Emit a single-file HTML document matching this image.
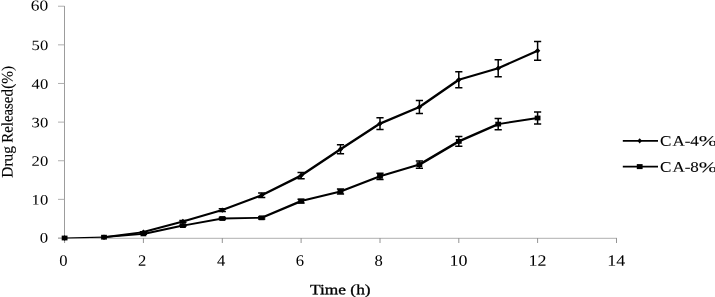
<!DOCTYPE html><html><head><meta charset="utf-8"><title>Drug release chart</title>
<style>html,body{margin:0;padding:0;background:#fff;}svg{display:block;}text{font-family:"Liberation Serif",serif;fill:#000;}</style></head><body>
<svg width="715" height="297" viewBox="0 0 715 297">
<rect width="715" height="297" fill="#fff"/>
<g fill="none">
<path d="M64.5 6 V238.5" stroke="#9c9c9c" stroke-width="1"/>
<path d="M58 238.3 H617" stroke="#a6a6a6" stroke-width="0.9"/>
<path d="M58 238.00 H64.5" stroke="#a6a6a6" stroke-width="0.9"/>
<path d="M58 199.37 H64.5" stroke="#a6a6a6" stroke-width="0.9"/>
<path d="M58 160.74 H64.5" stroke="#a6a6a6" stroke-width="0.9"/>
<path d="M58 122.11 H64.5" stroke="#a6a6a6" stroke-width="0.9"/>
<path d="M58 83.48 H64.5" stroke="#a6a6a6" stroke-width="0.9"/>
<path d="M58 44.85 H64.5" stroke="#a6a6a6" stroke-width="0.9"/>
<path d="M58 6.22 H64.5" stroke="#a6a6a6" stroke-width="0.9"/>
<path d="M64.6 238 V243" stroke="#949494" stroke-width="1"/>
<path d="M143.4 238 V243" stroke="#949494" stroke-width="1"/>
<path d="M222.3 238 V243" stroke="#949494" stroke-width="1"/>
<path d="M301.1 238 V243" stroke="#949494" stroke-width="1"/>
<path d="M380.0 238 V243" stroke="#949494" stroke-width="1"/>
<path d="M458.8 238 V243" stroke="#949494" stroke-width="1"/>
<path d="M537.6 238 V243" stroke="#949494" stroke-width="1"/>
<path d="M616.5 238 V243" stroke="#949494" stroke-width="1"/>
</g>
<text transform="translate(39.80 242.60) rotate(0.04)" font-size="14.3" textLength="8.4" lengthAdjust="spacingAndGlyphs">0</text>
<text transform="translate(31.60 204.50) rotate(0.04)" font-size="14.3" textLength="16.6" lengthAdjust="spacingAndGlyphs">10</text>
<text transform="translate(31.60 165.80) rotate(0.04)" font-size="14.3" textLength="16.6" lengthAdjust="spacingAndGlyphs">20</text>
<text transform="translate(31.60 127.15) rotate(0.04)" font-size="14.3" textLength="16.6" lengthAdjust="spacingAndGlyphs">30</text>
<text transform="translate(31.60 88.70) rotate(0.04)" font-size="14.3" textLength="16.6" lengthAdjust="spacingAndGlyphs">40</text>
<text transform="translate(31.60 50.00) rotate(0.04)" font-size="14.3" textLength="16.6" lengthAdjust="spacingAndGlyphs">50</text>
<text transform="translate(30.80 10.60) rotate(0.04)" font-size="15.2" textLength="17.4" lengthAdjust="spacingAndGlyphs">60</text>
<text transform="translate(59.25 265.85) rotate(0.04)" font-size="15.8" textLength="8.3" lengthAdjust="spacingAndGlyphs">0</text>
<text transform="translate(138.09 265.85) rotate(0.04)" font-size="15.8" textLength="8.3" lengthAdjust="spacingAndGlyphs">2</text>
<text transform="translate(216.93 265.85) rotate(0.04)" font-size="15.8" textLength="8.3" lengthAdjust="spacingAndGlyphs">4</text>
<text transform="translate(295.77 265.85) rotate(0.04)" font-size="15.8" textLength="8.3" lengthAdjust="spacingAndGlyphs">6</text>
<text transform="translate(374.61 265.85) rotate(0.04)" font-size="15.8" textLength="8.3" lengthAdjust="spacingAndGlyphs">8</text>
<text transform="translate(449.60 265.85) rotate(0.04)" font-size="15.8" textLength="18.0" lengthAdjust="spacingAndGlyphs">10</text>
<text transform="translate(528.44 265.85) rotate(0.04)" font-size="15.8" textLength="18.0" lengthAdjust="spacingAndGlyphs">12</text>
<text transform="translate(607.28 265.85) rotate(0.04)" font-size="15.8" textLength="18.0" lengthAdjust="spacingAndGlyphs">14</text>
<text transform="translate(310.00 294.30) rotate(0.04)" font-size="14.2" textLength="60.6" lengthAdjust="spacingAndGlyphs" stroke="#000" stroke-width="0.3">Time (h)</text>
<text transform="translate(12.5 177.7) rotate(-90.04) scale(1 1.05)" font-size="15.2" stroke="#000" stroke-width="0.15"><tspan x="0" textLength="31.7" lengthAdjust="spacingAndGlyphs">Drug</tspan> <tspan x="35" textLength="53.6" lengthAdjust="spacingAndGlyphs">Released</tspan><tspan x="88.9" textLength="22.9" lengthAdjust="spacingAndGlyphs">(%)</tspan></text>
<path d="M104.0 237.2 L143.4 232.1" fill="none" stroke="#000" stroke-width="1.91" stroke-linecap="round"/>
<path d="M143.4 232.1 L182.9 221.5" fill="none" stroke="#000" stroke-width="2.07" stroke-linecap="round"/>
<path d="M182.9 221.5 L222.3 210.1" fill="none" stroke="#000" stroke-width="2.10" stroke-linecap="round"/>
<path d="M222.3 210.1 L261.7 195.2" fill="none" stroke="#000" stroke-width="2.19" stroke-linecap="round"/>
<path d="M261.7 195.2 L301.1 175.6" fill="none" stroke="#000" stroke-width="2.31" stroke-linecap="round"/>
<path d="M301.1 175.6 L340.5 149.3" fill="none" stroke="#000" stroke-width="2.44" stroke-linecap="round"/>
<path d="M340.5 149.3 L380.0 123.6" fill="none" stroke="#000" stroke-width="2.43" stroke-linecap="round"/>
<path d="M380.0 123.6 L419.4 107.0" fill="none" stroke="#000" stroke-width="2.24" stroke-linecap="round"/>
<path d="M419.4 107.0 L458.8 79.8" fill="none" stroke="#000" stroke-width="2.46" stroke-linecap="round"/>
<path d="M458.8 79.8 L498.2 68.2" fill="none" stroke="#000" stroke-width="2.10" stroke-linecap="round"/>
<path d="M498.2 68.2 L537.6 50.8" fill="none" stroke="#000" stroke-width="2.25" stroke-linecap="round"/>
<path d="M61.9 238.0 L64.6 235.3 L67.3 238.0 L64.6 240.7 Z" fill="#000"/>
<path d="M101.3 237.2 L104.0 234.5 L106.7 237.2 L104.0 239.9 Z" fill="#000"/>
<path d="M143.4 231.8 V232.4" stroke="#000" stroke-width="1.5" fill="none"/>
<path d="M139.8 231.8 H147.0 M139.8 232.4 H147.0" stroke="#000" stroke-width="1.5" fill="none"/>
<path d="M140.7 232.1 L143.4 229.4 L146.1 232.1 L143.4 234.8 Z" fill="#000"/>
<path d="M182.9 220.6 V222.4" stroke="#000" stroke-width="1.5" fill="none"/>
<path d="M179.3 220.6 H186.5 M179.3 222.4 H186.5" stroke="#000" stroke-width="1.5" fill="none"/>
<path d="M180.2 221.5 L182.9 218.8 L185.6 221.5 L182.9 224.2 Z" fill="#000"/>
<path d="M222.3 208.7 V211.5" stroke="#000" stroke-width="1.5" fill="none"/>
<path d="M218.7 208.7 H225.9 M218.7 211.5 H225.9" stroke="#000" stroke-width="1.5" fill="none"/>
<path d="M219.6 210.1 L222.3 207.4 L225.0 210.1 L222.3 212.8 Z" fill="#000"/>
<path d="M261.7 193.0 V197.4" stroke="#000" stroke-width="1.5" fill="none"/>
<path d="M258.1 193.0 H265.3 M258.1 197.4 H265.3" stroke="#000" stroke-width="1.5" fill="none"/>
<path d="M259.0 195.2 L261.7 192.5 L264.4 195.2 L261.7 197.9 Z" fill="#000"/>
<path d="M301.1 172.4 V178.8" stroke="#000" stroke-width="1.5" fill="none"/>
<path d="M297.5 172.4 H304.7 M297.5 178.8 H304.7" stroke="#000" stroke-width="1.5" fill="none"/>
<path d="M298.4 175.6 L301.1 172.9 L303.8 175.6 L301.1 178.3 Z" fill="#000"/>
<path d="M340.5 144.8 V153.8" stroke="#000" stroke-width="1.5" fill="none"/>
<path d="M336.9 144.8 H344.1 M336.9 153.8 H344.1" stroke="#000" stroke-width="1.5" fill="none"/>
<path d="M337.8 149.3 L340.5 146.6 L343.2 149.3 L340.5 152.0 Z" fill="#000"/>
<path d="M380.0 117.8 V129.4" stroke="#000" stroke-width="1.5" fill="none"/>
<path d="M376.4 117.8 H383.6 M376.4 129.4 H383.6" stroke="#000" stroke-width="1.5" fill="none"/>
<path d="M377.3 123.6 L380.0 120.9 L382.7 123.6 L380.0 126.3 Z" fill="#000"/>
<path d="M419.4 100.4 V113.6" stroke="#000" stroke-width="1.5" fill="none"/>
<path d="M415.8 100.4 H423.0 M415.8 113.6 H423.0" stroke="#000" stroke-width="1.5" fill="none"/>
<path d="M416.7 107.0 L419.4 104.3 L422.1 107.0 L419.4 109.7 Z" fill="#000"/>
<path d="M458.8 71.8 V87.8" stroke="#000" stroke-width="1.5" fill="none"/>
<path d="M455.2 71.8 H462.4 M455.2 87.8 H462.4" stroke="#000" stroke-width="1.5" fill="none"/>
<path d="M456.1 79.8 L458.8 77.1 L461.5 79.8 L458.8 82.5 Z" fill="#000"/>
<path d="M498.2 59.7 V76.7" stroke="#000" stroke-width="1.5" fill="none"/>
<path d="M494.6 59.7 H501.8 M494.6 76.7 H501.8" stroke="#000" stroke-width="1.5" fill="none"/>
<path d="M495.5 68.2 L498.2 65.5 L500.9 68.2 L498.2 70.9 Z" fill="#000"/>
<path d="M537.6 41.4 V60.2" stroke="#000" stroke-width="1.5" fill="none"/>
<path d="M534.0 41.4 H541.2 M534.0 60.2 H541.2" stroke="#000" stroke-width="1.5" fill="none"/>
<path d="M534.9 50.8 L537.6 48.1 L540.3 50.8 L537.6 53.5 Z" fill="#000"/>
<path d="M64.6 238.0 L104.0 237.2" fill="none" stroke="#000" stroke-width="1.25" stroke-linecap="round"/>
<path d="M104.0 237.2 L143.4 233.9" fill="none" stroke="#000" stroke-width="1.85" stroke-linecap="round"/>
<path d="M143.4 233.9 L182.9 225.6" fill="none" stroke="#000" stroke-width="2.01" stroke-linecap="round"/>
<path d="M182.9 225.6 L222.3 218.5" fill="none" stroke="#000" stroke-width="1.97" stroke-linecap="round"/>
<path d="M222.3 218.5 L261.7 217.8" fill="none" stroke="#000" stroke-width="1.77" stroke-linecap="round"/>
<path d="M261.7 217.8 L301.1 201.1" fill="none" stroke="#000" stroke-width="2.24" stroke-linecap="round"/>
<path d="M301.1 201.1 L340.5 191.5" fill="none" stroke="#000" stroke-width="2.05" stroke-linecap="round"/>
<path d="M340.5 191.5 L380.0 176.3" fill="none" stroke="#000" stroke-width="2.20" stroke-linecap="round"/>
<path d="M380.0 176.3 L419.4 164.6" fill="none" stroke="#000" stroke-width="2.11" stroke-linecap="round"/>
<path d="M419.4 164.6 L458.8 141.4" fill="none" stroke="#000" stroke-width="2.38" stroke-linecap="round"/>
<path d="M458.8 141.4 L498.2 124.1" fill="none" stroke="#000" stroke-width="2.25" stroke-linecap="round"/>
<path d="M498.2 124.1 L537.6 118.0" fill="none" stroke="#000" stroke-width="1.94" stroke-linecap="round"/>
<rect x="61.7" y="235.6" width="5.8" height="4.8" fill="#000"/>
<rect x="101.1" y="234.8" width="5.8" height="4.8" fill="#000"/>
<path d="M143.4 233.6 V234.2" stroke="#000" stroke-width="1.5" fill="none"/>
<path d="M139.8 233.6 H147.0 M139.8 234.2 H147.0" stroke="#000" stroke-width="1.5" fill="none"/>
<rect x="140.5" y="231.5" width="5.8" height="4.8" fill="#000"/>
<path d="M182.9 224.9 V226.3" stroke="#000" stroke-width="1.5" fill="none"/>
<path d="M179.3 224.9 H186.5 M179.3 226.3 H186.5" stroke="#000" stroke-width="1.5" fill="none"/>
<rect x="180.0" y="223.2" width="5.8" height="4.8" fill="#000"/>
<path d="M222.3 217.5 V219.5" stroke="#000" stroke-width="1.5" fill="none"/>
<path d="M218.7 217.5 H225.9 M218.7 219.5 H225.9" stroke="#000" stroke-width="1.5" fill="none"/>
<rect x="219.4" y="216.1" width="5.8" height="4.8" fill="#000"/>
<path d="M261.7 216.7 V218.9" stroke="#000" stroke-width="1.5" fill="none"/>
<path d="M258.1 216.7 H265.3 M258.1 218.9 H265.3" stroke="#000" stroke-width="1.5" fill="none"/>
<rect x="258.8" y="215.4" width="5.8" height="4.8" fill="#000"/>
<path d="M301.1 199.2 V203.0" stroke="#000" stroke-width="1.5" fill="none"/>
<path d="M297.5 199.2 H304.7 M297.5 203.0 H304.7" stroke="#000" stroke-width="1.5" fill="none"/>
<rect x="298.2" y="198.7" width="5.8" height="4.8" fill="#000"/>
<path d="M340.5 189.1 V193.9" stroke="#000" stroke-width="1.5" fill="none"/>
<path d="M336.9 189.1 H344.1 M336.9 193.9 H344.1" stroke="#000" stroke-width="1.5" fill="none"/>
<rect x="337.6" y="189.1" width="5.8" height="4.8" fill="#000"/>
<path d="M380.0 173.2 V179.4" stroke="#000" stroke-width="1.5" fill="none"/>
<path d="M376.4 173.2 H383.6 M376.4 179.4 H383.6" stroke="#000" stroke-width="1.5" fill="none"/>
<rect x="377.1" y="173.9" width="5.8" height="4.8" fill="#000"/>
<path d="M419.4 160.9 V168.3" stroke="#000" stroke-width="1.5" fill="none"/>
<path d="M415.8 160.9 H423.0 M415.8 168.3 H423.0" stroke="#000" stroke-width="1.5" fill="none"/>
<rect x="416.5" y="162.2" width="5.8" height="4.8" fill="#000"/>
<path d="M458.8 136.5 V146.3" stroke="#000" stroke-width="1.5" fill="none"/>
<path d="M455.2 136.5 H462.4 M455.2 146.3 H462.4" stroke="#000" stroke-width="1.5" fill="none"/>
<rect x="455.9" y="139.0" width="5.8" height="4.8" fill="#000"/>
<path d="M498.2 118.4 V129.8" stroke="#000" stroke-width="1.5" fill="none"/>
<path d="M494.6 118.4 H501.8 M494.6 129.8 H501.8" stroke="#000" stroke-width="1.5" fill="none"/>
<rect x="495.3" y="121.7" width="5.8" height="4.8" fill="#000"/>
<path d="M537.6 112.0 V124.0" stroke="#000" stroke-width="1.5" fill="none"/>
<path d="M534.0 112.0 H541.2 M534.0 124.0 H541.2" stroke="#000" stroke-width="1.5" fill="none"/>
<rect x="534.7" y="115.6" width="5.8" height="4.8" fill="#000"/>
<path d="M622.8 140.8 H658 M622.8 166.6 H658" stroke="#000" stroke-width="1.85"/>
<path d="M637.4 140.8 l2.3 -2.6 l2.3 2.6 l-2.3 2.6 Z" fill="#000"/>
<rect x="636.8" y="164.1" width="5.8" height="5" fill="#000"/>
<text transform="translate(659.9 145.7) rotate(0.04)" font-size="14.6" stroke="#000" stroke-width="0.1"><tspan x="0" textLength="11.4" lengthAdjust="spacingAndGlyphs">C</tspan><tspan x="12.5" textLength="26.5" lengthAdjust="spacingAndGlyphs">A-4</tspan><tspan x="38.9" textLength="18.1" lengthAdjust="spacingAndGlyphs">%</tspan></text>
<text transform="translate(659.9 171.85) rotate(0.04)" font-size="14.6" stroke="#000" stroke-width="0.1"><tspan x="0" textLength="11.4" lengthAdjust="spacingAndGlyphs">C</tspan><tspan x="12.5" textLength="26.5" lengthAdjust="spacingAndGlyphs">A-8</tspan><tspan x="38.9" textLength="18.1" lengthAdjust="spacingAndGlyphs">%</tspan></text>
</svg></body></html>
